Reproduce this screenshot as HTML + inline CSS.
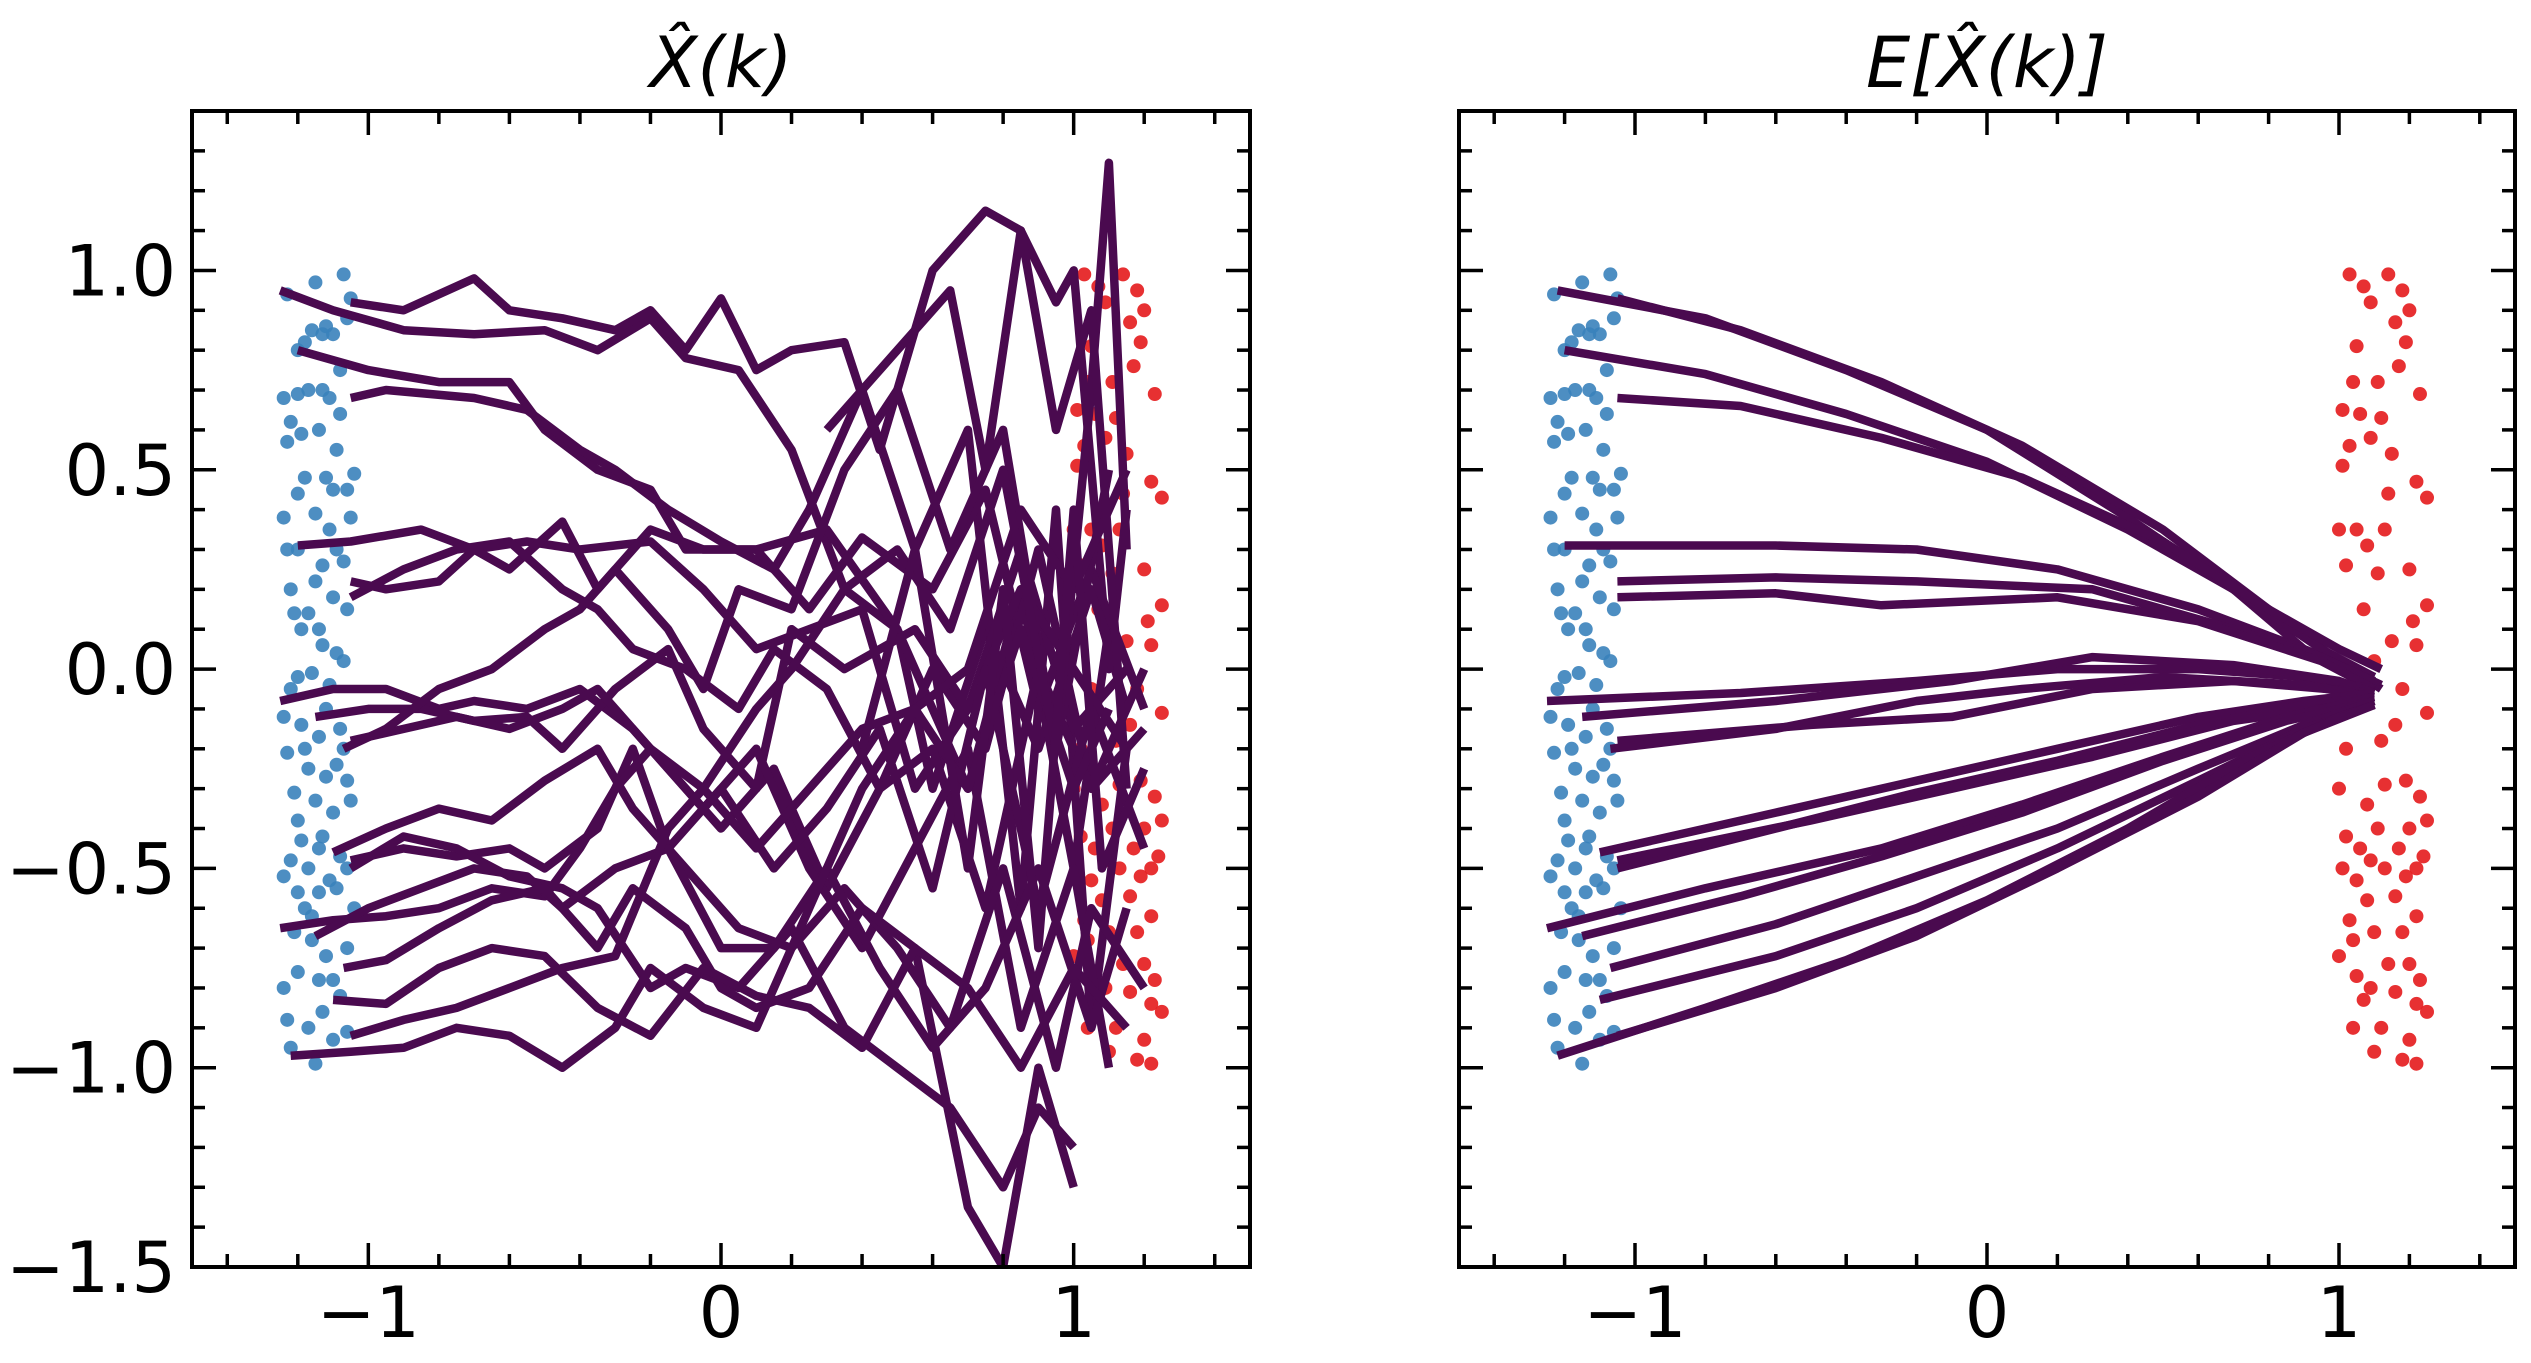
<!DOCTYPE html>
<html><head><meta charset="utf-8"><style>
html,body{margin:0;padding:0;background:#fff;}
svg{display:block;font-family:"DejaVu Sans","Liberation Sans",sans-serif;}
</style></head><body>
<svg id="fig" width="2531" height="1363" viewBox="0 0 2531 1363" xmlns="http://www.w3.org/2000/svg"></svg>
<script>
const xTicks=[-1,0,1];
const xTickLabels=["\u22121","0","1"];
const yTicks=[-1.5,-1.0,-0.5,0.0,0.5,1.0];
const yTickLabels=["\u22121.5","\u22121.0","\u22120.5","0.0","0.5","1.0"];
const panelTitles=["X\u0302(k)","E[X\u0302(k)]"];

const bluePts=[[-1.23,0.94],[-1.15,0.97],[-1.07,0.99],[-1.12,0.86],[-1.16,0.85],[-1.1,0.84],[-1.18,0.82],[-1.06,0.88],[-1.05,0.93],[-1.2,0.69],[-1.13,0.7],[-1.08,0.75],[-1.24,0.68],[-1.17,0.7],[-1.11,0.68],[-1.22,0.62],[-1.14,0.6],[-1.09,0.55],[-1.23,0.57],[-1.19,0.59],[-1.12,0.48],[-1.04,0.49],[-1.1,0.45],[-1.2,0.44],[-1.15,0.39],[-1.24,0.38],[-1.11,0.35],[-1.05,0.38],[-1.2,0.3],[-1.09,0.3],[-1.13,0.26],[-1.07,0.27],[-1.15,0.22],[-1.22,0.2],[-1.1,0.18],[-1.06,0.15],[-1.17,0.14],[-1.19,0.1],[-1.13,0.06],[-1.09,0.04],[-1.2,-0.02],[-1.16,-0.01],[-1.11,-0.04],[-1.24,-0.12],[-1.19,-0.14],[-1.14,-0.17],[-1.08,-0.15],[-1.23,-0.21],[-1.17,-0.25],[-1.12,-0.27],[-1.06,-0.28],[-1.21,-0.31],[-1.15,-0.33],[-1.1,-0.36],[-1.05,-0.33],[-1.2,-0.38],[-1.13,-0.42],[-1.08,-0.47],[-1.22,-0.48],[-1.17,-0.5],[-1.11,-0.53],[-1.24,-0.52],[-1.14,-0.56],[-1.09,-0.55],[-1.04,-0.6],[-1.21,-0.66],[-1.16,-0.68],[-1.12,-0.72],[-1.06,-0.7],[-1.2,-0.76],[-1.14,-0.78],[-1.08,-0.82],[-1.23,-0.88],[-1.17,-0.9],[-1.1,-0.93],[-1.15,-0.99],[-1.22,-0.95],[-1.06,-0.91],[-1.19,-0.43],[-1.07,-0.2],[-1.23,0.3],[-1.18,-0.6],[-1.13,0.84],[-1.2,0.8],[-1.08,0.64],[-1.18,0.48],[-1.06,0.45],[-1.21,0.14],[-1.14,0.1],[-1.07,0.02],[-1.22,-0.05],[-1.12,-0.1],[-1.18,-0.2],[-1.09,-0.24],[-1.14,-0.45],[-1.2,-0.56],[-1.06,-0.5],[-1.16,-0.62],[-1.1,-0.78],[-1.24,-0.8],[-1.13,-0.86]];
const redPts=[[1.03,0.99],[1.07,0.96],[1.14,0.99],[1.18,0.95],[1.09,0.92],[1.2,0.9],[1.16,0.87],[1.05,0.81],[1.17,0.76],[1.11,0.72],[1.23,0.69],[1.01,0.65],[1.06,0.64],[1.12,0.63],[1.03,0.56],[1.09,0.58],[1.15,0.54],[1.01,0.51],[1.22,0.47],[1.25,0.43],[1.0,0.35],[1.05,0.35],[1.13,0.35],[1.08,0.31],[1.02,0.26],[1.2,0.25],[1.11,0.24],[1.25,0.16],[1.21,0.12],[1.15,0.07],[1.22,0.06],[1.1,0.02],[1.05,-0.05],[1.25,-0.11],[1.16,-0.14],[1.0,-0.3],[1.08,-0.34],[1.13,-0.29],[1.19,-0.28],[1.23,-0.32],[1.02,-0.42],[1.11,-0.4],[1.17,-0.45],[1.06,-0.45],[1.24,-0.47],[1.01,-0.5],[1.05,-0.53],[1.13,-0.5],[1.19,-0.52],[1.22,-0.5],[1.08,-0.58],[1.16,-0.57],[1.03,-0.63],[1.1,-0.66],[1.22,-0.62],[1.14,-0.74],[1.2,-0.74],[1.05,-0.77],[1.09,-0.8],[1.16,-0.81],[1.22,-0.84],[1.25,-0.86],[1.04,-0.9],[1.12,-0.9],[1.2,-0.93],[1.18,-0.98],[1.22,-0.99],[1.07,-0.83],[1.25,-0.38],[1.0,-0.72],[1.19,0.82],[1.04,0.72],[1.14,0.44],[1.07,0.15],[1.18,-0.05],[1.02,-0.2],[1.12,-0.18],[1.2,-0.4],[1.09,-0.48],[1.04,-0.68],[1.18,-0.66],[1.23,-0.78],[1.1,-0.96]];

const leftLines=[
[[-1.25,0.95],[-1.1,0.9],[-0.9,0.85],[-0.7,0.84],[-0.5,0.85],[-0.35,0.8],[-0.2,0.88],[-0.1,0.78],[0.05,0.75],[0.2,0.55],[0.35,0.2],[0.5,0.1],[0.6,-0.3],[0.75,0.1],[0.9,-0.2],[1.05,0.2],[1.15,-0.1]],
[[-1.05,0.92],[-0.9,0.9],[-0.7,0.98],[-0.6,0.9],[-0.45,0.88],[-0.3,0.85],[-0.2,0.9],[-0.1,0.8],[0.0,0.93],[0.1,0.75],[0.2,0.8],[0.35,0.82],[0.45,0.55],[0.6,1.0],[0.75,1.15],[0.85,1.1],[0.95,0.92],[1.0,1.0],[1.05,0.5],[1.1,0.0],[1.15,0.4]],
[[-1.2,0.8],[-1.0,0.75],[-0.8,0.72],[-0.6,0.72],[-0.5,0.6],[-0.35,0.5],[-0.2,0.45],[-0.1,0.3],[0.1,0.3],[0.3,0.35],[0.5,0.1],[0.7,-0.3],[0.85,0.2],[1.0,-0.5],[1.1,0.1]],
[[-1.05,0.68],[-0.95,0.7],[-0.7,0.68],[-0.55,0.65],[-0.4,0.55],[-0.3,0.5],[-0.15,0.4],[0.0,0.32],[0.15,0.25],[0.25,0.4],[0.4,0.7],[0.55,0.3],[0.7,0.6],[0.85,-0.6],[0.95,0.4],[1.05,-0.9],[1.15,-0.2]],
[[-1.2,0.31],[-1.05,0.32],[-0.85,0.35],[-0.7,0.3],[-0.55,0.32],[-0.4,0.3],[-0.2,0.32],[-0.05,0.2],[0.1,0.05],[0.25,0.1],[0.4,0.15],[0.55,-0.3],[0.7,-0.1],[0.85,0.3],[1.0,-0.15],[1.15,0.0]],
[[-1.05,0.22],[-0.95,0.2],[-0.8,0.22],[-0.7,0.3],[-0.6,0.25],[-0.45,0.37],[-0.35,0.2],[-0.2,0.35],[-0.05,0.3],[0.1,0.3],[0.25,0.15],[0.4,0.33],[0.6,0.2],[0.75,0.45],[0.9,-0.1],[1.05,0.25],[1.2,-0.1]],
[[-1.05,0.18],[-0.9,0.25],[-0.75,0.3],[-0.6,0.32],[-0.45,0.2],[-0.35,0.15],[-0.25,0.05],[-0.1,0.0],[0.05,-0.1],[0.15,0.05],[0.3,-0.05],[0.45,-0.3],[0.6,0.0],[0.75,-0.2],[0.9,0.3],[1.05,-0.3],[1.2,0.0]],
[[-1.25,-0.08],[-1.1,-0.05],[-0.95,-0.05],[-0.8,-0.1],[-0.7,-0.08],[-0.55,-0.1],[-0.4,-0.05],[-0.25,-0.15],[-0.1,-0.3],[0.0,-0.4],[0.15,-0.25],[0.3,-0.55],[0.45,-0.3],[0.6,-0.2],[0.75,-0.6],[0.9,0.0],[1.05,-0.3],[1.2,-0.15]],
[[-1.15,-0.12],[-1.0,-0.1],[-0.85,-0.1],[-0.7,-0.13],[-0.55,-0.12],[-0.45,-0.2],[-0.3,-0.05],[-0.15,0.05],[-0.05,-0.15],[0.1,-0.3],[0.2,0.1],[0.35,0.0],[0.55,0.1],[0.7,-0.1],[0.85,0.2],[1.0,0.0],[1.15,-0.2]],
[[-1.05,-0.18],[-0.9,-0.15],[-0.75,-0.12],[-0.6,-0.15],[-0.45,-0.1],[-0.35,-0.05],[-0.2,-0.2],[-0.05,-0.35],[0.1,-0.2],[0.25,-0.5],[0.4,-0.7],[0.55,-0.45],[0.7,-0.2],[0.85,-0.9],[1.0,-0.5],[1.1,-1.0]],
[[-1.07,-0.2],[-0.95,-0.15],[-0.8,-0.05],[-0.65,0.0],[-0.5,0.1],[-0.4,0.15],[-0.3,0.25],[-0.15,0.1],[-0.05,-0.05],[0.05,0.2],[0.2,0.15],[0.35,0.5],[0.5,0.7],[0.65,0.3],[0.8,0.6],[0.95,-0.2],[1.1,0.5]],
[[-1.1,-0.46],[-0.95,-0.4],[-0.8,-0.35],[-0.65,-0.38],[-0.5,-0.28],[-0.35,-0.2],[-0.25,-0.35],[-0.1,-0.5],[0.05,-0.65],[0.2,-0.7],[0.35,-0.55],[0.5,-0.7],[0.65,-0.9],[0.8,-0.5],[0.95,-1.0],[1.05,-0.6],[1.2,-0.8]],
[[-1.05,-0.48],[-0.9,-0.45],[-0.75,-0.47],[-0.6,-0.45],[-0.5,-0.5],[-0.35,-0.4],[-0.25,-0.2],[-0.15,-0.45],[0.0,-0.3],[0.15,-0.5],[0.3,-0.35],[0.45,-0.15],[0.6,-0.55],[0.75,0.0],[0.9,-0.6],[1.05,-0.1],[1.2,-0.45]],
[[-1.05,-0.5],[-0.9,-0.42],[-0.75,-0.45],[-0.6,-0.52],[-0.45,-0.55],[-0.35,-0.6],[-0.2,-0.8],[-0.1,-0.75],[0.05,-0.8],[0.2,-0.65],[0.35,-0.9],[0.5,-1.0],[0.65,-1.1],[0.8,-1.3],[0.9,-1.1],[1.0,-1.2]],
[[-1.25,-0.65],[-1.1,-0.63],[-0.95,-0.62],[-0.8,-0.6],[-0.65,-0.55],[-0.5,-0.57],[-0.4,-0.45],[-0.3,-0.3],[-0.2,-0.2],[-0.05,-0.3],[0.1,-0.45],[0.25,-0.3],[0.4,-0.15],[0.55,-0.1],[0.7,0.0],[0.85,0.4],[1.0,0.2],[1.15,0.5]],
[[-1.15,-0.67],[-1.0,-0.6],[-0.85,-0.55],[-0.7,-0.5],[-0.55,-0.52],[-0.45,-0.6],[-0.3,-0.5],[-0.15,-0.45],[0.0,-0.7],[0.15,-0.7],[0.3,-0.5],[0.45,-0.75],[0.6,-0.95],[0.75,-0.8],[0.9,-0.5],[1.05,-0.9],[1.15,-0.6]],
[[-1.07,-0.75],[-0.95,-0.73],[-0.8,-0.65],[-0.65,-0.58],[-0.5,-0.55],[-0.35,-0.7],[-0.25,-0.55],[-0.1,-0.65],[0.0,-0.8],[0.1,-0.85],[0.25,-0.8],[0.4,-0.6],[0.55,-0.7],[0.7,-1.35],[0.8,-1.5],[0.9,-1.0],[1.0,-1.3]],
[[-1.1,-0.83],[-0.95,-0.84],[-0.8,-0.75],[-0.65,-0.7],[-0.5,-0.72],[-0.35,-0.85],[-0.2,-0.92],[-0.05,-0.75],[0.1,-0.82],[0.25,-0.85],[0.4,-0.95],[0.55,-0.7],[0.7,-0.8],[0.85,-1.0],[1.0,-0.75],[1.15,-0.9]],
[[-1.22,-0.97],[-1.05,-0.96],[-0.9,-0.95],[-0.75,-0.9],[-0.6,-0.92],[-0.45,-1.0],[-0.3,-0.9],[-0.2,-0.75],[-0.05,-0.85],[0.1,-0.9],[0.25,-0.6],[0.4,-0.3],[0.55,-0.1],[0.7,-0.3],[0.85,0.1],[1.0,-0.3],[1.1,-0.1]],
[[-1.05,-0.92],[-0.9,-0.88],[-0.75,-0.85],[-0.6,-0.8],[-0.45,-0.75],[-0.3,-0.72],[-0.15,-0.4],[-0.05,-0.3],[0.1,-0.1],[0.2,0.0],[0.35,0.2],[0.5,0.3],[0.65,0.1],[0.8,0.5],[0.95,-0.2],[1.05,0.7],[1.1,1.27],[1.15,0.3]],
[[0.3,0.6],[0.5,0.8],[0.65,0.95],[0.75,0.5],[0.85,1.1],[0.95,0.6],[1.05,0.9],[1.15,-0.3]],
[[0.4,-0.2],[0.55,0.3],[0.7,-0.5],[0.8,0.2],[0.9,-0.7],[1.0,0.4],[1.08,-0.5],[1.2,-0.25]]
];
const rightLines=[
[[-1.22,0.95],[-0.8,0.88],[-0.4,0.75],[0,0.6],[0.4,0.38],[0.7,0.2],[0.9,0.05],[1.1,-0.02]],
[[-1.05,0.93],[-0.7,0.85],[-0.3,0.72],[0.1,0.56],[0.5,0.35],[0.8,0.15],[1.0,0.02],[1.12,-0.05]],
[[-1.2,0.8],[-0.8,0.74],[-0.4,0.64],[0,0.52],[0.4,0.35],[0.7,0.2],[0.95,0.05],[1.1,-0.02]],
[[-1.05,0.68],[-0.7,0.66],[-0.3,0.58],[0.1,0.48],[0.5,0.32],[0.8,0.15],[1.0,0.05],[1.12,0.0]],
[[-1.2,0.31],[-0.6,0.31],[-0.2,0.3],[0.2,0.25],[0.6,0.15],[0.9,0.05],[1.1,-0.03]],
[[-1.05,0.22],[-0.6,0.23],[-0.2,0.22],[0.3,0.2],[0.7,0.1],[0.95,0.03],[1.12,-0.04]],
[[-1.05,0.18],[-0.6,0.19],[-0.3,0.16],[0.2,0.18],[0.6,0.12],[0.95,0.02],[1.1,-0.05]],
[[-1.25,-0.08],[-0.7,-0.06],[-0.2,-0.03],[0.2,0.0],[0.6,0.0],[0.9,-0.02],[1.1,-0.05]],
[[-1.15,-0.12],[-0.6,-0.08],[-0.1,-0.03],[0.3,0.03],[0.7,0.01],[1.0,-0.03],[1.1,-0.06]],
[[-1.05,-0.18],[-0.5,-0.14],[-0.1,-0.12],[0.3,-0.05],[0.7,-0.03],[1.1,-0.06]],
[[-1.07,-0.2],[-0.6,-0.15],[-0.2,-0.08],[0.1,-0.05],[0.5,-0.02],[0.9,-0.04],[1.1,-0.07]],
[[-1.1,-0.46],[-0.6,-0.36],[-0.2,-0.28],[0.2,-0.2],[0.6,-0.12],[0.9,-0.08],[1.1,-0.06]],
[[-1.05,-0.5],[-0.6,-0.4],[-0.2,-0.31],[0.2,-0.23],[0.6,-0.14],[0.9,-0.09],[1.1,-0.07]],
[[-1.05,-0.48],[-0.5,-0.38],[-0.1,-0.3],[0.3,-0.22],[0.7,-0.13],[1.1,-0.08]],
[[-1.25,-0.65],[-0.8,-0.55],[-0.3,-0.45],[0.1,-0.34],[0.5,-0.22],[0.85,-0.12],[1.1,-0.07]],
[[-1.15,-0.67],[-0.7,-0.57],[-0.3,-0.47],[0.1,-0.36],[0.5,-0.23],[0.85,-0.13],[1.1,-0.08]],
[[-1.07,-0.75],[-0.6,-0.64],[-0.2,-0.52],[0.2,-0.4],[0.6,-0.25],[0.9,-0.14],[1.1,-0.08]],
[[-1.1,-0.83],[-0.6,-0.72],[-0.2,-0.6],[0.2,-0.45],[0.6,-0.28],[0.9,-0.15],[1.1,-0.09]],
[[-1.22,-0.97],[-0.8,-0.85],[-0.4,-0.73],[0,-0.58],[0.4,-0.4],[0.75,-0.22],[1.0,-0.12],[1.1,-0.09]],
[[-1.05,-0.92],[-0.6,-0.8],[-0.2,-0.67],[0.2,-0.5],[0.6,-0.32],[0.9,-0.16],[1.1,-0.09]]
];

const NS="http://www.w3.org/2000/svg";
const svg=document.getElementById('fig');
function mk(tag,attrs,parent){const e=document.createElementNS(NS,tag);for(const k in attrs)e.setAttribute(k,attrs[k]);(parent||svg).appendChild(e);return e;}

const panels=[
 {x0:192,x1:1250,y0:111,y1:1267,lines:leftLines,showY:true,key:'left'},
 {x0:1459,x1:2515,y0:111,y1:1267,lines:rightLines,showY:false,key:'right'}
];
const XMIN=-1.5,XMAX=1.5,YMIN=-1.5,YMAX=1.4;

panels.forEach((p,pi)=>{
 const sx=v=>p.x0+(v-XMIN)/(XMAX-XMIN)*(p.x1-p.x0);
 const sy=v=>p.y1-(v-YMIN)/(YMAX-YMIN)*(p.y1-p.y0);
 const g=mk('g',{});
 
 
 const defs=mk('clipPath',{id:'clip'+pi},g);
 mk('rect',{x:p.x0,y:p.y0,width:p.x1-p.x0,height:p.y1-p.y0},defs);
 const plot=mk('g',{'clip-path':'url(#clip'+pi+')'},g);
 const bg=mk('g',{},plot);
 
 
 bluePts.forEach(pt=>{
  const c=mk('circle',{cx:sx(pt[0]),cy:sy(pt[1]),r:7,fill:'#3a82bb','fill-opacity':0.9},bg);
  
  
 });
 const rg=mk('g',{},plot);
 
 
 redPts.forEach(pt=>{
  const c=mk('circle',{cx:sx(pt[0]),cy:sy(pt[1]),r:7,fill:'#e41a1c','fill-opacity':0.9},rg);
  
  
 });
 const lg=mk('g',{},plot);
 
 
 p.lines.forEach(ln=>{
  const d=ln.map((pt,i)=>(i?'L':'M')+sx(pt[0]).toFixed(1)+','+sy(pt[1]).toFixed(1)).join('');
  const pa=mk('path',{d:d,fill:'none',stroke:'#4a0a4f','stroke-width':8.5,'stroke-linejoin':'round','stroke-linecap':'butt'},lg);
  
  
 });
 const tg=mk('g',{stroke:'#000','stroke-width':3.5},g);
 
 
 for(let i=-7;i<=7;i++){const v=i*0.2;if(v<XMIN-1e-9||v>XMAX+1e-9)continue;const X=sx(v);
  const maj=Math.abs(v-Math.round(v))<1e-9;const L=maj?24:13;
  mk('line',{x1:X,y1:p.y1,x2:X,y2:p.y1-L},tg);mk('line',{x1:X,y1:p.y0,x2:X,y2:p.y0+L},tg);}
 for(let i=-15;i<=14;i++){const v=i*0.1;const Y=sy(v);
  const maj=Math.abs(v*2-Math.round(v*2))<1e-9;const L=maj?24:13;
  mk('line',{x1:p.x0,y1:Y,x2:p.x0+L,y2:Y},tg);mk('line',{x1:p.x1,y1:Y,x2:p.x1-L,y2:Y},tg);}
 const fr=mk('rect',{x:p.x0,y:p.y0,width:p.x1-p.x0,height:p.y1-p.y0,fill:'none',stroke:'#000','stroke-width':4},g);
 
 
 xTicks.forEach((v,i)=>{
  const t=mk('text',{x:sx(v),y:p.y1+70,'text-anchor':'middle','font-size':70,fill:'#000'},g);
  t.textContent=xTickLabels[i];
  
  
 });
 if(p.showY){yTicks.forEach((v,i)=>{
  const t=mk('text',{x:p.x0-16,y:sy(v)+25,'text-anchor':'end','font-size':70,fill:'#000'},g);
  t.textContent=yTickLabels[i];
  
  
 });}
 const tt=mk('text',{x:(p.x0+p.x1)/2,y:p.y0-24,'text-anchor':'middle','font-size':70,'font-style':'italic',fill:'#000'},g);
 tt.textContent=panelTitles[pi];
 
 
});
</script>
</body></html>
